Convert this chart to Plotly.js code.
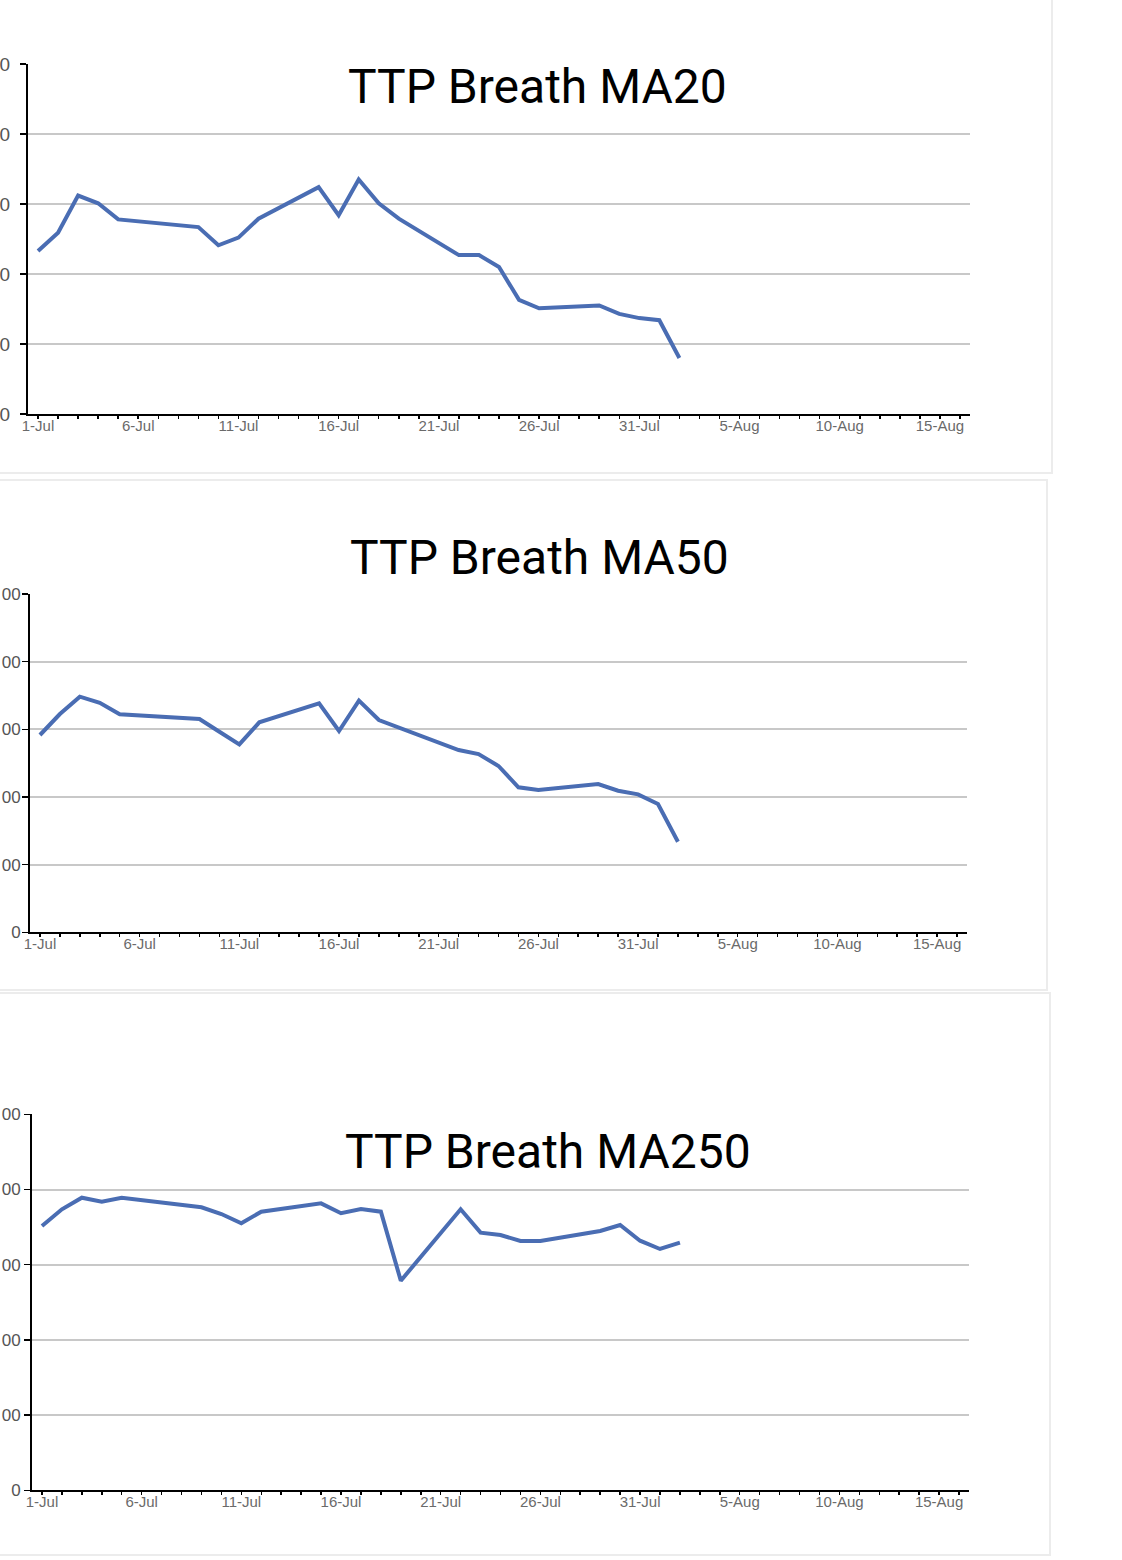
<!DOCTYPE html>
<html>
<head>
<meta charset="utf-8">
<script src="https://cdn.plot.ly/plotly-3.0.1.min.js"></script>
<style>
  html, body { margin: 0; padding: 0; background: #ffffff; }
  #chart { width: 1122px; height: 1560px; }
</style>
</head>
<body>
<div id="chart"></div>
<script>
// ---- data ----
const dates = [
  '2019-07-01','2019-07-02','2019-07-03','2019-07-04','2019-07-05',
  '2019-07-09','2019-07-10','2019-07-11','2019-07-12',
  '2019-07-15','2019-07-16','2019-07-17','2019-07-18','2019-07-19',
  '2019-07-22','2019-07-23','2019-07-24','2019-07-25','2019-07-26',
  '2019-07-29','2019-07-30','2019-07-31','2019-08-01','2019-08-02'
];
const ma20 = [23.3, 25.9, 31.2, 30.1, 27.8, 26.7, 24.1, 25.2, 27.9,
              32.4, 28.4, 33.5, 30.1, 27.9, 22.7, 22.7, 21.0, 16.3, 15.1,
              15.5, 14.3, 13.7, 13.4, 8.0];
const ma50 = [291.6, 322.6, 348.2, 339.3, 322.2, 315.2, 296.4, 277.8, 310.3,
              338.4, 297.5, 342.5, 313.7, 302.4, 269.4, 263.5, 245.8, 214.3, 210.3,
              219.2, 209.3, 203.9, 189.6, 133.9];
const ma250 = [351.5, 373.7, 389.1, 383.8, 389.1, 376.3, 367.4, 355.1, 370.5,
               381.6, 368.4, 374.1, 370.5, 278.7, 373.7, 342.6, 339.5, 331.5, 331.5,
               344.8, 352.8, 331.9, 320.9, 329.3];
const titles = ['TTP Breath MA20', 'TTP Breath MA50', 'TTP Breath MA250'];
// y ticks; the reference crops the left edge so only the last digits of each label show
const yTicks20 = [0, 10, 20, 30, 40, 50];
const yText20 = ['0', '0', '0', '0', '0', '0'];
const yTicks50 = [0, 100, 200, 300, 400, 500];
const yText50 = ['0', '00', '00', '00', '00', '00'];
const yTicks250 = [0, 100, 200, 300, 400, 500];
const yText250 = ['0', '00', '00', '00', '00', '00'];

// ---- styling ----
const W = 1122, H = 1560;
const lineColor = '#4a6db3';
const xRange = ['2019-06-30 12:00', '2019-08-16 12:00'];
const gridColor = '#c8c8c8';

function xAxis(x0, x1, anchor) {
  return {
    domain: [x0 / W, x1 / W], anchor: anchor, type: 'date', range: xRange,
    tick0: '2019-07-01', dtick: 5 * 86400000, tickformat: '%-d-%b',
    showgrid: false, zeroline: false,
    showline: true, linecolor: '#000', linewidth: 2,
    ticks: 'outside', ticklen: 3, tickcolor: '#000', tickwidth: 1.5,
    minor: { ticks: 'outside', ticklen: 3, dtick: 86400000, tick0: '2019-07-01',
             tickcolor: '#000', tickwidth: 1.5, showgrid: false },
    tickfont: { family: 'Liberation Sans, Arial, sans-serif', size: 15, color: '#6a6a6a' },
    ticklabelstandoff: -6,
    fixedrange: true
  };
}
function yAxis(top, bottom, anchor, ticks, text, grid, size, standoff) {
  return {
    domain: [1 - bottom / H, 1 - top / H], anchor: anchor,
    range: [ticks[0], ticks[ticks.length - 1]],
    tickvals: ticks, ticktext: text,
    showgrid: grid, gridcolor: gridColor, gridwidth: 2, zeroline: false,
    showline: true, linecolor: '#000', linewidth: 2,
    ticks: 'outside', ticklen: 6, tickcolor: '#000', tickwidth: 1.5,
    tickfont: { family: 'Liberation Sans, Arial, sans-serif', size: size, color: '#555555' },
    ticklabelstandoff: standoff,
    fixedrange: true
  };
}

const traces = [
  { x: dates, y: ma20, xaxis: 'x', yaxis: 'y', type: 'scatter', mode: 'lines',
    line: { color: lineColor, width: 4 }, hoverinfo: 'skip' },
  { x: dates, y: ma50, xaxis: 'x2', yaxis: 'y2', type: 'scatter', mode: 'lines',
    line: { color: lineColor, width: 4 }, hoverinfo: 'skip' },
  { x: dates, y: ma250, xaxis: 'x3', yaxis: 'y3', type: 'scatter', mode: 'lines',
    line: { color: lineColor, width: 4 }, hoverinfo: 'skip' }
];

// gridlines for the first chart (no line along its top edge)
const shapes = [];
yTicks20.slice(1, -1).forEach(v => {
  shapes.push({ type: 'line', xref: 'x domain', yref: 'y', x0: 0, x1: 1, y0: v, y1: v,
                line: { color: gridColor, width: 2 }, layer: 'below' });
});
// panel frames
const frameColor = '#ececec';
[[-5, 1052, -5, 473], [-5, 1047, 480, 990], [-5, 1050, 993, 1555]].forEach(f => {
  shapes.push({ type: 'rect', xref: 'paper', yref: 'paper',
                x0: f[0] / W, x1: f[1] / W, y0: 1 - f[3] / H, y1: 1 - f[2] / H,
                line: { color: frameColor, width: 2 }, fillcolor: 'rgba(0,0,0,0)', layer: 'below' });
});

const titleFont = { family: 'Roboto, Inter, sans-serif', size: 48, color: '#000' };
const annotations = [
  { text: titles[0], x: 537 / W, y: 1 - 86 / H },
  { text: titles[1], x: 539 / W, y: 1 - 557 / H },
  { text: titles[2], x: 548 / W, y: 1 - 1151 / H }
].map(a => Object.assign({ xref: 'paper', yref: 'paper', xanchor: 'center', yanchor: 'middle',
                           showarrow: false, font: titleFont }, a));

const layout = {
  width: W, height: H,
  margin: { l: 0, r: 0, t: 0, b: 0 },
  paper_bgcolor: '#ffffff', plot_bgcolor: 'rgba(0,0,0,0)',
  showlegend: false,
  xaxis: xAxis(28, 970, 'y'),
  yaxis: yAxis(64, 414, 'x', yTicks20, yText20, false, 19, 6),
  xaxis2: xAxis(30, 967, 'y2'),
  yaxis2: yAxis(594, 932.3, 'x2', yTicks50, yText50, true, 17, -2),
  xaxis3: xAxis(32, 969, 'y3'),
  yaxis3: yAxis(1114.3, 1490.3, 'x3', yTicks250, yText250, true, 17, 0),
  shapes: shapes,
  annotations: annotations
};

Plotly.newPlot('chart', traces, layout, { displayModeBar: false, staticPlot: true });
</script>
</body>
</html>
